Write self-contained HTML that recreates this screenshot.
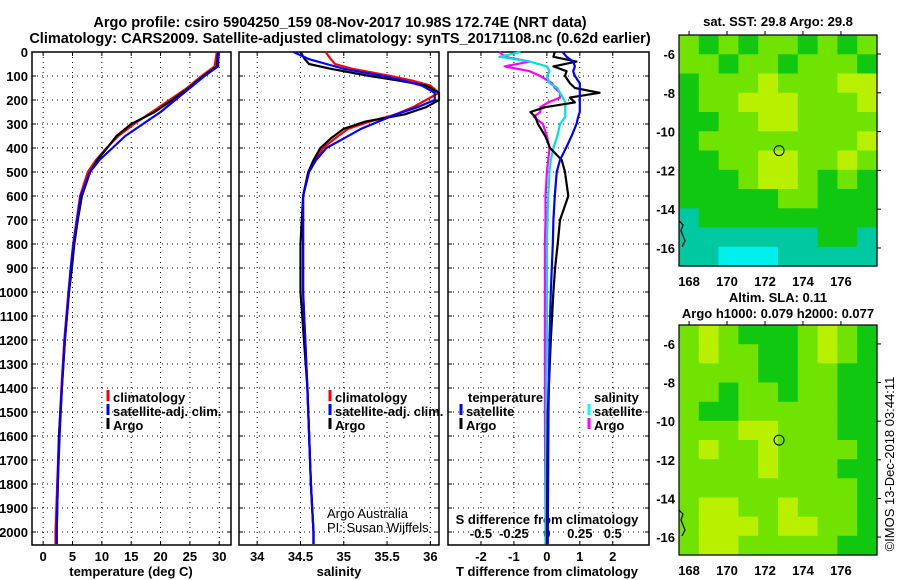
<!DOCTYPE html>
<html><head><meta charset="utf-8"><style>
html,body{margin:0;padding:0;background:#fff}
svg{display:block}
text{font-family:"Liberation Sans",sans-serif;fill:#000}
.b{font-weight:bold;font-size:13px}
.t{font-weight:bold;font-size:14.5px}
</style></head><body>
<svg id="c" width="900" height="580" viewBox="0 0 900 580" xmlns="http://www.w3.org/2000/svg">
<text class="t" x="340" y="27" text-anchor="middle">Argo profile: csiro 5904250_159 08-Nov-2017 10.98S 172.74E (NRT data)</text>
<text class="t" x="340" y="43" text-anchor="middle">Climatology: CARS2009. Satellite-adjusted climatology: synTS_20171108.nc (0.62d earlier)</text>
<g id="g"></g>
</svg>
<script>
// ---- data ----
const depths=[0,60,100,150,200,250,300,350,400,450,500,600,700,800,900,1000,1200,1400,1600,1800,2000,2050];
const tempArgo=[29.8,29.6,27.3,24.8,22,19,15,12.5,10.9,9.2,8,6.6,5.9,5.3,4.9,4.4,3.7,3.2,2.7,2.5,2.3,2.3];
const tempClim=[29.6,29.2,27,24.5,21.5,18.5,15.5,12.8,10.8,9,7.6,6.3,5.7,5.1,4.7,4.3,3.6,3.1,2.7,2.4,2.1,2.1];
const tempSat=[29.9,29.8,27.5,25,22.5,20,17,14,11.8,9.6,8,6.4,5.8,5.2,4.7,4.4,3.7,3.2,2.8,2.5,2.3,2.3];
const salDepths=[0,30,50,70,100,120,140,170,200,230,260,290,320,360,400,450,500,600,800,1000,1400,1800,2000,2050];
const salArgo=[34.5,34.55,34.6,34.85,35.3,35.65,35.95,36.1,36.1,35.95,35.7,35.25,35.0,34.85,34.73,34.65,34.59,34.53,34.5,34.5,34.58,34.62,34.65,34.65];
const salClim=[34.79,34.85,34.9,35.1,35.54,35.8,36.0,36.1,35.95,35.8,35.6,35.3,35.05,34.9,34.76,34.66,34.59,34.53,34.53,34.53,34.58,34.62,34.65,34.65];
const salSat=[34.42,34.6,34.8,35.0,35.45,35.7,35.9,36.05,36.05,35.85,35.6,35.4,35.2,35.0,34.8,34.68,34.6,34.53,34.53,34.53,34.58,34.62,34.65,34.65];
const diffDepths=[0,20,40,60,80,100,130,150,170,190,210,230,250,270,300,350,400,450,500,600,700,800,900,1000,1200,1500,2000,2050];
const dTArgo=[0.24,0.2,0.9,0.2,0.6,0.55,0.7,0.85,1.6,0.7,0.85,-0.05,-0.5,-0.35,-0.27,-0.05,0.1,0.45,0.55,0.65,0.4,0.33,0.25,0.2,0.12,0.03,0,0];
const dTSat=[0.48,0.6,0.8,0.85,0.8,0.85,1.0,1.0,1.0,1.0,1.0,1.0,1.0,0.95,0.9,0.75,0.58,0.4,0.3,0.24,0.2,0.18,0.15,0.12,0.08,0.05,0.03,0.03];
const dSArgo=[-0.36,-0.32,-0.13,-0.32,-0.13,-0.05,0.04,0.06,0.1,0.1,0.01,-0.05,-0.05,-0.1,-0.03,0,0.02,0.01,0,-0.01,-0.01,-0.015,-0.015,-0.015,-0.015,-0.015,-0.01,-0.01];
const dSSat=[-0.2,-0.36,-0.13,0,0.02,0,0.02,0.08,0.1,0.12,0.14,0.14,0.14,0.14,0.1,0.08,0.05,0.03,0.02,0.01,0.005,0,0,0,0,-0.005,-0.01,-0.01];
const depthTicks=[0,100,200,300,400,500,600,700,800,900,1000,1100,1200,1300,1400,1500,1600,1700,1800,1900,2000];
const tempTicks=[0,5,10,15,20,25,30];
const salTicks=[34,34.5,35,35.5,36];
const salTickLabels=["34","34.5","35","35.5","36"];
const dTTicks=[-2,-1,0,1,2];
const dSTicks=[-0.5,-0.25,0,0.25,0.5];
const dSTickLabels=["-0.5","-0.25","0","0.25","0.5"];
const lonTicks=[168,170,172,174,176];
const latTicks=[-6,-8,-10,-12,-14,-16];
// map colour class grids (rows lat -5 to -17, cols lon 167.5 to 178)
const sstGrid=[
[3,2,3,2,3,3,2,3,2,3],[3,3,2,3,3,2,3,3,3,2],[2,3,3,3,4,3,3,3,4,4],[2,3,3,4,4,4,3,3,3,4],
[2,2,3,3,4,4,3,3,3,3],[2,3,3,3,3,3,3,3,3,4],[2,2,3,3,4,4,3,3,4,3],[2,2,2,3,4,4,3,2,3,2],
[2,2,2,2,2,3,3,2,2,2],[1,2,2,2,2,2,2,2,2,2],[1,1,1,1,1,1,1,2,2,1],[1,1,0,0,0,1,1,1,1,1]];
const slaGrid=[
[3,4,3,2,2,2,3,4,3,2],[3,4,3,3,2,2,3,4,3,2],[3,3,3,3,2,2,3,3,2,2],[3,3,2,3,3,2,3,3,2,2],
[3,2,2,3,3,3,3,3,2,2],[3,3,3,4,4,3,3,3,2,2],[3,4,3,3,4,3,3,3,3,2],[3,3,3,3,4,3,3,3,2,2],
[3,3,3,3,3,3,3,3,3,2],[3,4,4,3,3,4,3,3,3,2],[3,4,4,4,3,4,4,3,3,2],[3,4,4,3,3,3,3,3,2,2]];
const mapColors=["#00f0f0","#00c8a0","#10c810","#70e400","#b8f000"];

const NS="http://www.w3.org/2000/svg";
const G=document.getElementById('g');
function mk(tag,attrs,parent){const e=document.createElementNS(NS,tag);for(const k in attrs)e.setAttribute(k,attrs[k]);(parent||G).appendChild(e);return e;}
function txt(x,y,s,cls,anchor){const e=mk('text',{x:x,y:y,'class':cls||'b','text-anchor':anchor||'middle'});e.textContent=s;return e;}

const Y0=52,Y1=545;
const yD=d=>Y0+d*0.24;
const panels=[
 {x0:32,x1:231,vmin:-1.9,vmax:32,name:'temperature'},
 {x0:239,x1:439,vmin:33.79,vmax:36.1,name:'salinity'},
 {x0:448,x1:649,vmin:-3,vmax:3.1,name:'difference'}];
function sx(p,v){return p.x0+(v-p.vmin)/(p.vmax-p.vmin)*(p.x1-p.x0);}
const pS={x0:448,x1:649,vmin:-0.75,vmax:0.775};

panels.forEach((p,i)=>{
 const r=mk('rect',{x:p.x0,y:Y0,width:p.x1-p.x0,height:Y1-Y0,fill:'none',stroke:'#000','stroke-width':1.5});
 
 
 depthTicks.forEach(d=>{
  const l=mk('line',{x1:p.x0,x2:p.x1,y1:yD(d),y2:yD(d),stroke:'#000','stroke-dasharray':'1,4','stroke-width':1});
  
  
  mk('line',{x1:p.x0,x2:p.x0+4,y1:yD(d),y2:yD(d),stroke:'#000'});
  mk('line',{x1:p.x1-4,x2:p.x1,y1:yD(d),y2:yD(d),stroke:'#000'});
 });
});
depthTicks.forEach(d=>{
 const t=txt(28,yD(d)+5,String(d),'b','end');
 
 
});
function vgrid(p,ticks,labels){
 ticks.forEach((v,k)=>{
  const x=sx(p,v);
  const l=mk('line',{x1:x,x2:x,y1:Y0,y2:Y1,stroke:'#000','stroke-dasharray':'1,4'});
  
  
  mk('line',{x1:x,x2:x,y1:Y1-4,y2:Y1,stroke:'#000'});
  mk('line',{x1:x,x2:x,y1:Y0,y2:Y0+4,stroke:'#000'});
  const t=txt(x,561,labels[k]);
  
  
 });
}
vgrid(panels[0],tempTicks,tempTicks.map(String));
vgrid(panels[1],salTicks,salTickLabels);
vgrid(panels[2],dTTicks,dTTicks.map(String));
dSTicks.forEach((v,k)=>{
 const t=txt(sx(pS,v),538,dSTickLabels[k]);
 
 
});
let t;
t=txt(131,576,'temperature (deg C)');
t=txt(339,576,'salinity');
t=txt(547,576,'T difference from climatology');
t=txt(547,524,'S difference from climatology');

function line(p,ds,vs,color,name,w){
 const pts=ds.map((d,k)=>sx(p,vs[k]).toFixed(1)+','+yD(d).toFixed(1)).join(' ');
 const e=mk('polyline',{points:pts,fill:'none',stroke:color,'stroke-width':w||2.2,'stroke-linejoin':'round'});
 
 
}
line(panels[0],depths,tempClim,'#ff0000','temp-climatology-line');
line(panels[0],depths,tempArgo,'#000000','temp-argo-line');
line(panels[0],depths,tempSat,'#0000ff','temp-satellite-line');
line(panels[1],salDepths,salClim,'#ff0000','sal-climatology-line');
line(panels[1],salDepths,salArgo,'#000000','sal-argo-line');
line(panels[1],salDepths,salSat,'#0000ff','sal-satellite-line');
line(pS,diffDepths,dSArgo,'#ff00ff','s-diff-argo-line');
line(pS,diffDepths,dSSat,'#00e0e0','s-diff-satellite-line');
line(panels[2],diffDepths,dTArgo,'#000000','t-diff-argo-line');
line(panels[2],diffDepths,dTSat,'#0000ff','t-diff-satellite-line');

function leg(x,y,color,label,name){
 const g=mk('g',{});
 
 
 mk('rect',{x:x-1.5,y:y-12,width:3,height:11,fill:color},g);
 const e=mk('text',{x:x+5,y:y,'class':'b'},g);e.textContent=label;
}
leg(108,402,'#ff0000','climatology','legend-climatology');
leg(108,416,'#0000ff','satellite-adj. clim.','legend-satellite-adj');
leg(108,430,'#000000','Argo','legend-argo');
leg(330,402,'#ff0000','climatology','legend-climatology-sal');
leg(330,416,'#0000ff','satellite-adj. clim.','legend-satellite-adj-sal');
leg(330,430,'#000000','Argo','legend-argo-sal');
t=txt(468,402,'temperature','b','start');
t=txt(594,402,'salinity','b','start');
leg(461,416,'#0000ff','satellite','legend-t-satellite');
leg(461,430,'#000000','Argo','legend-t-argo');
leg(589,416,'#00ffff','satellite','legend-s-satellite');
leg(589,430,'#ff00ff','Argo','legend-s-argo');
t=mk('text',{x:327,y:518,'font-size':'13'});t.textContent='Argo Australia';
t=mk('text',{x:327,y:532,'font-size':'13'});t.textContent='PI: Susan Wijffels';

// maps
const LON0=167.47,LON1=177.9,LAT0=-5.02,LAT1=-16.93;
function drawMap(top,bottom,grid,name){
 const x0=679,x1=877;
 const lx=v=>x0+(v-LON0)/(LON1-LON0)*(x1-x0);
 const ly=v=>top+(v-LAT0)/(LAT1-LAT0)*(bottom-top);
 const g=mk('g',{});
 
 
 const rows=grid.length,cols=grid[0].length;
 const cw=(x1-x0)/cols,ch=(bottom-top)/rows;
 grid.forEach((row,r)=>row.forEach((v,c)=>{
  const cell=mk('rect',{x:(x0+c*cw).toFixed(1),y:(top+r*ch).toFixed(1),width:(cw+0.6).toFixed(1),height:(ch+0.6).toFixed(1),fill:mapColors[v]},g);
  
  
 }));
 mk('rect',{x:x0,y:top,width:x1-x0,height:bottom-top,fill:'none',stroke:'#000','stroke-width':1.2});
 lonTicks.forEach(v=>{
  mk('line',{x1:lx(v),x2:lx(v),y1:top-4,y2:top,stroke:'#000'});
  const l=txt(lx(v),bottom+20,String(v));
  
  
 });
 latTicks.forEach(v=>{
  mk('line',{x1:x1,x2:x1+4,y1:ly(v),y2:ly(v),stroke:'#000'});
  const l=txt(675,ly(v)+5,String(v),'b','end');
  
  
 });
 const c=mk('circle',{cx:lx(172.74),cy:ly(-10.98),r:5,fill:'none',stroke:'#000','stroke-width':1});
 
 
 mk('path',{d:`M${x0} ${ly(-14.6)} l4 4 l-2 6 l4 10 l-3 6`,fill:'none',stroke:'#000','stroke-width':1.2});
}
drawMap(35,266,sstGrid,'sst-map');
drawMap(325,555,slaGrid,'sla-map');
t=txt(778,26,'sat. SST: 29.8 Argo: 29.8');
t=txt(778,302,'Altim. SLA: 0.11');
t=txt(778,318,'Argo h1000: 0.079 h2000: 0.077');
t=mk('text',{x:0,y:0,'font-size':'13',transform:'translate(894,464) rotate(-90)','text-anchor':'middle'});
t.textContent='©IMOS 13-Dec-2018 03:44:11';


</script>
</body></html>
